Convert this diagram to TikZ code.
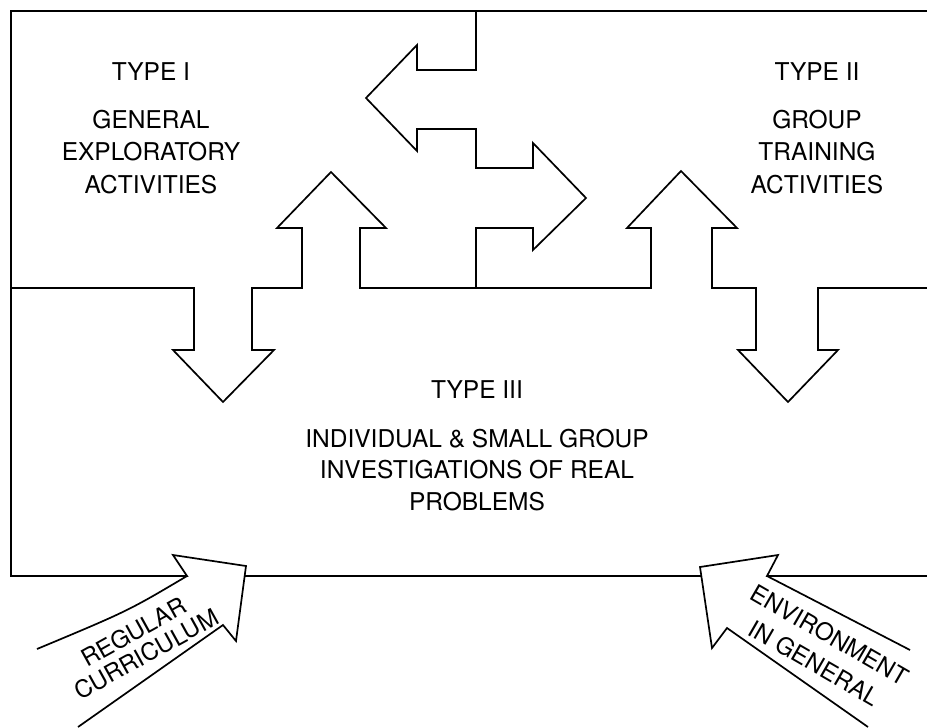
\documentclass[tikz,border=0pt]{standalone}
\usepackage{fontspec}
\setmainfont{TeX Gyre Heros}
\begin{document}
\begin{tikzpicture}[x=1pt,y=-1pt,
  outline/.style={line width=1.7pt,line join=miter,black},
  lbl/.style={anchor=base,inner sep=0pt,font=\fontsize{24.5}{29}\selectfont},
  rlbl/.style={anchor=center,inner sep=0pt,align=center}]
\useasboundingbox (0,0) rectangle (927,728);
% outer frame + left bottom arrow
\draw[outline] (927,11) -- (11,11) -- (11,576) -- (187,576) -- (173,555) -- (246,566)
  -- (236,641) -- (223,625) -- (78,727);
\draw[outline] (187,576) .. controls (128,611) .. (37,649);
\draw[outline] (245,576) -- (701,576);
% right bottom arrow
\draw[outline] (868,727) -- (727,628) -- (712,648) -- (700,567) -- (778,555) -- (767,576) -- (927,576);
\draw[outline] (767,576) -- (910,650);
% middle boundary with vertical arrows
\draw[outline] (11,288) -- (194,288) -- (194,350) -- (173,350) -- (223,402) -- (274,350)
  -- (252,350) -- (252,288) -- (302,288) -- (302,228) -- (277,228) -- (331,172)
  -- (386,228) -- (360,228) -- (360,288) -- (651,288) -- (651,228) -- (627,228)
  -- (681,171) -- (737,228) -- (712,228) -- (712,288) -- (756,288) -- (756,350)
  -- (738,350) -- (788,402) -- (838,350) -- (818,350) -- (818,288) -- (927,288);
% vertical divider with horizontal arrows
\draw[outline] (476,11) -- (476,70) -- (417,70) -- (417,45) -- (366,98) -- (417,151)
  -- (417,129) -- (476,129) -- (476,168) -- (533,168) -- (533,143) -- (586,198)
  -- (533,250) -- (533,228) -- (476,228) -- (476,288);
% Type I
\node[lbl] (t1a) at (151,80) {TYPE I};
\node[lbl] (t1b) at (151,128) {GENERAL};
\node[lbl] (t1c) at (151,160) {EXPLORATORY};
\node[lbl] (t1d) at (151,193) {ACTIVITIES};
% Type II
\node[lbl] (t2a) at (817,80) {TYPE II};
\node[lbl] (t2b) at (817,128) {GROUP};
\node[lbl] (t2c) at (817,160) {TRAINING};
\node[lbl] (t2d) at (817,193) {ACTIVITIES};
% Type III
\node[lbl] (t3a) at (477,398) {TYPE III};
\node[lbl] (t3b) at (477,447) {INDIVIDUAL \& SMALL GROUP};
\node[lbl] (t3c) at (477,478) {INVESTIGATIONS OF REAL};
\node[lbl] (t3d) at (477,510) {PROBLEMS};
% bottom arrow labels
\node[rlbl,rotate=29,font=\fontsize{24}{25.5}\selectfont] (rc) at (140,643) {REGULAR\\CURRICULUM};
\node[rlbl,rotate=-30,font=\fontsize{24}{32}\selectfont] (eg) at (822,649) {ENVIRONMENT\\IN GENERAL};
\end{tikzpicture}
\end{document}
